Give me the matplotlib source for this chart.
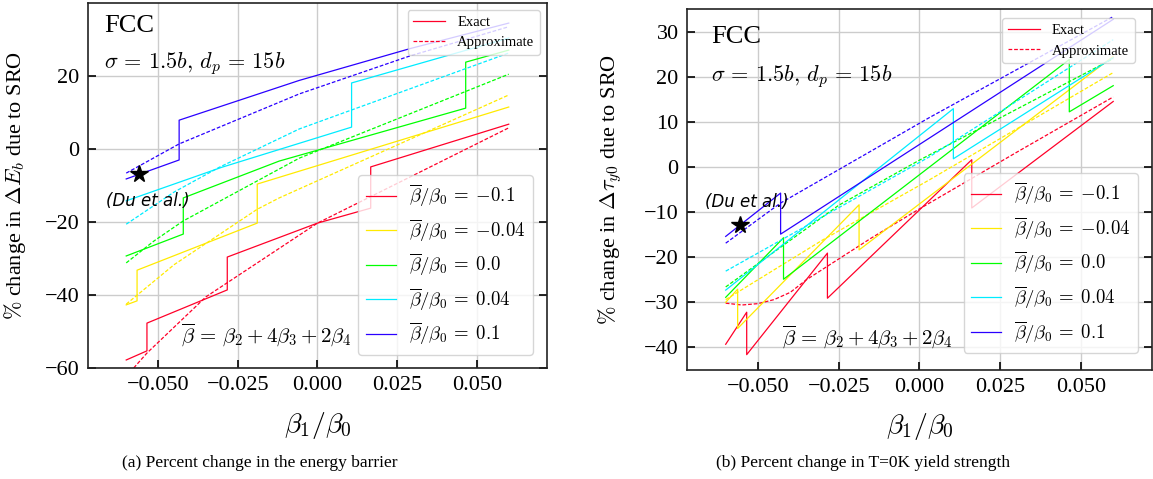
import matplotlib
matplotlib.use("Agg")
import matplotlib.pyplot as plt
import numpy as np
from matplotlib.lines import Line2D

plt.rcParams["font.family"] = "serif"
plt.rcParams["font.serif"] = ["Liberation Serif", "DejaVu Serif"]
plt.rcParams["mathtext.fontset"] = "cm"

# beta_bar / beta_0 values of each curve
beta_ratios = [-0.1, -0.04, 0.0, 0.04, 0.1]

# (a) energy barrier -- exact curves (vertical steps repeat x)
eb_exact_x = [
    [-0.06, -0.0535, -0.0535, -0.0283, -0.0283, 0.0, 0.0167, 0.0167, 0.06],
    [-0.06, -0.0566, -0.0566, -0.0189, -0.0189, 0.06],
    [-0.06, -0.0421, -0.0421, -0.012, 0.0465, 0.0465, 0.06],
    [-0.06, -0.03, 0.0107, 0.0107, 0.06],
    [-0.06, -0.0434, -0.0434, -0.0057, 0.029, 0.06],
]
eb_exact_y = [
    [-57.8, -55.3, -47.7, -38.6, -29.6, -20.3, -16.2, -4.9, 6.8],
    [-42.7, -41.6, -33.2, -20.3, -9.6, 11.5],
    [-29.3, -23.3, -13.4, -3.3, 11.2, 23.8, 27.1],
    [-14.2, -5.0, 6.0, 18.1, 30.4],
    [-8.2, -3.0, 7.9, 18.8, 27.5, 34.5],
]
# (a) energy barrier -- approximate curves
eb_approx_x = [
    [-0.06, -0.0535, -0.035, 0.0, 0.06],
    [-0.06, -0.045, -0.0189, -0.012, 0.06],
    [-0.06, -0.0513, -0.0421, -0.0057, 0.06],
    [-0.06, -0.045, -0.0308, -0.0057, 0.06],
    [-0.06, -0.0434, -0.0057, 0.029, 0.06],
]
eb_approx_y = [
    [-62.3, -55.9, -40.5, -20.3, 5.8],
    [-42.5, -31.7, -16.5, -13.4, 14.8],
    [-31.2, -25.2, -19.7, -2.5, 20.5],
    [-20.6, -11.8, -5.0, 5.5, 26.3],
    [-6.6, 1.4, 15.1, 25.5, 33.5],
]

# (b) T=0K yield strength -- exact curves
ty_exact_x = [
    [-0.06, -0.0535, -0.0535, -0.0285, -0.0285, 0.0162, 0.0162, 0.06],
    [-0.06, -0.0563, -0.0563, -0.0187, -0.0187, 0.06],
    [-0.06, -0.0421, -0.0421, 0.0464, 0.0464, 0.06],
    [-0.06, 0.0105, 0.0105, 0.06],
    [-0.06, -0.043, -0.043, 0.06],
]
ty_exact_y = [
    [-39.3, -32.2, -41.6, -19.1, -29.1, 1.6, -9.1, 14.5],
    [-30.0, -27.1, -35.8, -8.4, -18.4, 24.5],
    [-28.9, -15.7, -24.9, 23.8, 12.2, 18.0],
    [-27.3, 12.9, 1.8, 24.2],
    [-15.4, -5.8, -14.9, 32.7],
]
# (b) T=0K yield strength -- approximate curves
ty_approx_x = [
    [-0.06, -0.055, -0.05, -0.045, -0.04, -0.035, -0.025, -0.015, 0.0, 0.03, 0.06],
    [-0.06, -0.03, 0.003, 0.06],
    [-0.06, -0.025, 0.0, 0.06],
    [-0.06, 0.003, 0.06],
    [-0.06, -0.043, 0.003, 0.06],
]
ty_approx_y = [
    [-30.2, -30.6, -30.3, -29.4, -27.8, -25.0, -20.4, -15.8, -9.3, 3.2, 15.5],
    [-29.4, -16.2, -2.9, 20.9],
    [-26.6, -8.5, 1.5, 24.0],
    [-23.1, 2.2, 28.2],
    [-16.9, -8.0, 10.9, 33.3],
]

# Du et al. reference point
du_eb = (-0.0560, -6.8)
du_ty = (-0.0557, -12.9)

colors = plt.cm.gist_rainbow(np.linspace(0, 0.8, len(beta_ratios)))
DASH = (3, 1.5)


def draw_panel(ax, ex_x, ex_y, ap_x, ap_y, du, ylim, yticks, ylabel, txt_pos):
    for i, b in enumerate(beta_ratios):
        # second math chunk keeps the minus sign unary
        ax.plot(ex_x[i], ex_y[i], color=colors[i], lw=0.9,
                label=r"$\overline{\beta}/\beta_0\,=$ $%s$" % b)
        ax.plot(ap_x[i], ap_y[i], color=colors[i], lw=0.9, ls="--", dashes=DASH)
    ax.plot(du[0], du[1], marker="*", color="k", ms=13, ls="none", zorder=5)

    ax.set_xlim(-0.072, 0.072)
    ax.set_ylim(*ylim)
    ax.set_xticks([-0.05, -0.025, 0.0, 0.025, 0.05])
    ax.set_xticklabels(["\u22120.050", "\u22120.025", "0.000", "0.025", "0.050"])
    ax.set_yticks(yticks)
    ax.set_yticklabels([("\u2212%d" % -t) if t < 0 else "%d" % t for t in yticks])
    ax.grid(True, color="#cccccc", lw=1.0)
    ax.set_axisbelow(True)
    ax.tick_params(direction="in", length=6, width=1.2, labelsize=16,
                   right=True, top=False, pad=6)
    for s in ax.spines.values():
        s.set_linewidth(1.2)
        s.set_color("#222222")

    ax.set_xlabel(r"$\beta_1/\beta_0$", fontsize=20)
    ax.set_ylabel(ylabel, fontsize=16)

    fx, fy, sy, ddx, ddy, bx, by = txt_pos
    ax.text(fx, fy, "FCC", fontsize=19, va="center")
    ax.text(fx, sy, r"$\sigma \,=\, 1.5b,\, d_p \,=\, 15b$", fontsize=16, va="center")
    ax.text(ddx, ddy, "(Du et al.)", fontsize=12, style="italic",
            family="DejaVu Sans", va="center")
    ax.text(bx, by, r"$\overline{\beta} \,=\, \beta_2 + 4\beta_3 + 2\beta_4$",
            fontsize=15, va="center")


fig = plt.figure(figsize=(11.53, 4.79), dpi=100)
ax1 = fig.add_axes([0.0763, 0.2317, 0.3981, 0.762])
ax2 = fig.add_axes([0.5958, 0.2276, 0.4033, 0.7537])

draw_panel(ax1, eb_exact_x, eb_exact_y, eb_approx_x, eb_approx_y, du_eb,
           (-60, 40), [-60, -40, -20, 0, 20],
           r"$\%$ change in $\Delta E_b$ due to SRO",
           (-0.067, 33.7, 23.3, -0.0663, -14.3, -0.0428, -51.2))
draw_panel(ax2, ty_exact_x, ty_exact_y, ty_approx_x, ty_approx_y, du_ty,
           (-45, 35), [-40, -30, -20, -10, 0, 10, 20, 30],
           r"$\%$ change in $\Delta\tau_{y0}$ due to SRO",
           (-0.0644, 28.7, 20.0, -0.0665, -7.8, -0.0425, -37.8))

ax1.yaxis.set_label_coords(-0.131, 0.5)
ax2.yaxis.set_label_coords(-0.135, 0.5)
ax1.xaxis.set_label_coords(0.5, -0.115)
ax2.xaxis.set_label_coords(0.5, -0.113)

style_handles = [Line2D([], [], color=colors[0], lw=0.9),
                 Line2D([], [], color=colors[0], lw=0.9, ls="--", dashes=DASH)]

for ax, a1, a2 in [(ax1, (0.985, 0.981), (0.969, 0.036)),
                   (ax2, (0.963, 0.975), (0.970, 0.047))]:
    lines = [l for l in ax.get_lines() if l.get_label().startswith("$")]
    leg2 = ax.legend(lines, [l.get_label() for l in lines], loc="lower right",
                     bbox_to_anchor=a2, borderaxespad=0, fontsize=13.5,
                     handlelength=1.6, labelspacing=0.42, handletextpad=0.7)
    ax.add_artist(leg2)
    ax.legend(style_handles, ["Exact", "Approximate"], loc="upper right",
              bbox_to_anchor=a1, borderaxespad=0, fontsize=10.5,
              handlelength=2.2, labelspacing=0.5)

fig.text(260 / 1153, 1 - 463 / 479, "(a) Percent change in the energy barrier",
         fontsize=12.5, ha="center", va="center")
fig.text(863 / 1153, 1 - 463 / 479, "(b) Percent change in T=0K yield strength",
         fontsize=12.5, ha="center", va="center")

fig.savefig("out.png", dpi=100)
